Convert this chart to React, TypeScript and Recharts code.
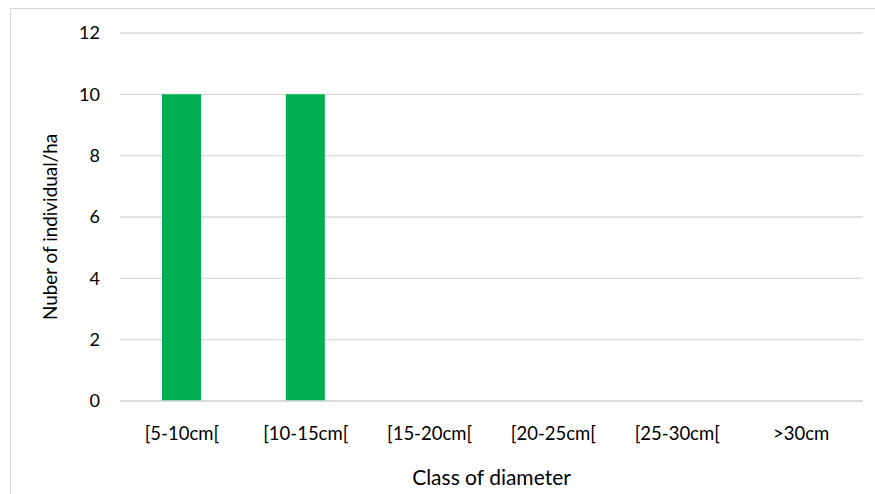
import { BarChart, Bar, XAxis, YAxis, CartesianGrid } from 'recharts';

const classes = ['[5-10cm[', '[10-15cm[', '[15-20cm[', '[20-25cm[', '[25-30cm[', '>30cm'];
const individuals = [10, 10, 0, 0, 0, 0];
const yTicks = [0, 2, 4, 6, 8, 10, 12];

const data = classes.map((c, i) => ({ name: c, value: individuals[i] }));

const font = 'Lato, "Open Sans", sans-serif';

const W = 875;
const H = 494;
const TOP = 33;
const X_AXIS_H = 93;

// rotated y-axis title, sitting a little below the plot's middle
const YTitle = () => {
  const x = 49;
  const y = TOP + (H - TOP - X_AXIS_H) / 2 + 10;
  return (
    <text
      x={x}
      y={y}
      transform={`rotate(-90, ${x}, ${y})`}
      textAnchor="middle"
      dominantBaseline="central"
      fill="#000"
      fontSize={18.9}
      fontFamily={font}
    >
      Nuber of individual/ha
    </text>
  );
};

export default function App() {
  return (
    <div style={{ position: 'absolute', left: 0, top: 0, width: W, height: H, background: '#fff', overflow: 'hidden', fontFamily: font }}>
      <div style={{ position: 'absolute', left: 10, top: 8, width: 880, height: 500, border: '1px solid #d9d9d9', boxSizing: 'border-box' }} />
      <BarChart
        width={W}
        height={H}
        data={data}
        margin={{ top: TOP, right: 12, bottom: 0, left: 0 }}
        barSize={39}
        style={{ position: 'absolute', left: 0, top: 0 }}
      >
        <CartesianGrid vertical={false} stroke="#d9d9d9" strokeWidth={1.3} />
        <XAxis
          dataKey="name"
          height={X_AXIS_H}
          tickLine={false}
          axisLine={{ stroke: '#d9d9d9', strokeWidth: 1.3 }}
          tick={{ fill: '#000', fontSize: 18.5, fontFamily: font }}
          tickMargin={20}
          interval={0}
          label={{ value: 'Class of diameter', position: 'insideBottom', offset: 9, fill: '#000', fontSize: 21, fontFamily: font }}
        />
        <YAxis
          width={120}
          domain={[0, 12]}
          ticks={yTicks}
          tickLine={false}
          axisLine={false}
          tick={{ fill: '#000', fontSize: 18, fontFamily: font }}
          tickMargin={14}
        />
        <Bar dataKey="value" fill="#00b050" isAnimationActive={false} />
      </BarChart>
      <svg width={W} height={H} style={{ position: 'absolute', left: 0, top: 0, pointerEvents: 'none' }}>
        <YTitle />
      </svg>
    </div>
  );
}
